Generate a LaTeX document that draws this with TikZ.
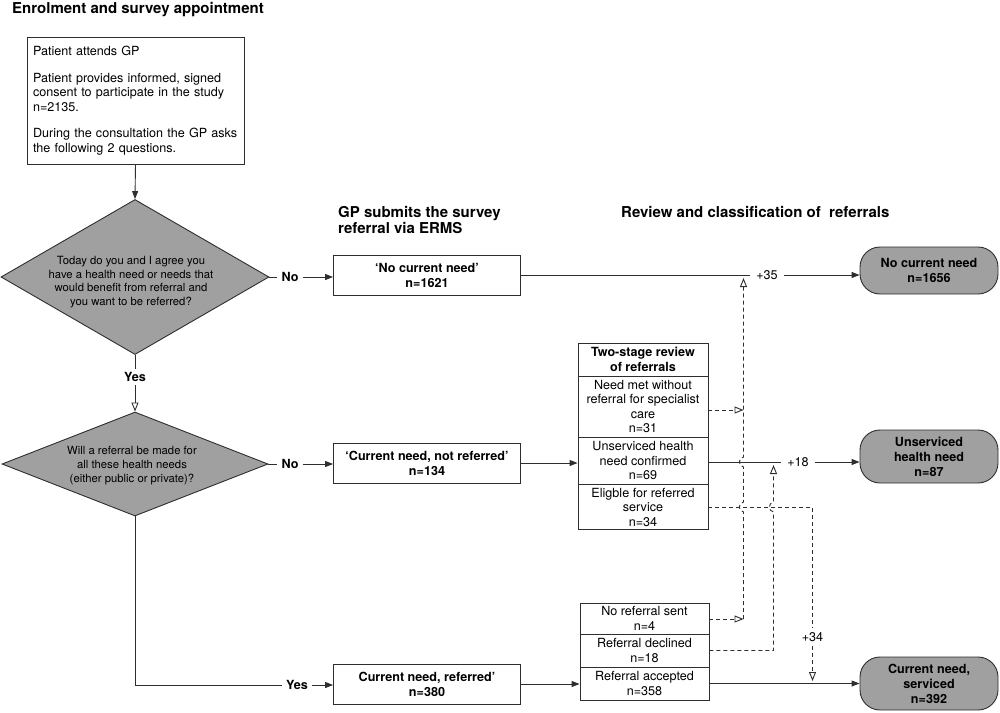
\documentclass[tikz,border=0pt]{standalone}
\usepackage{fontspec}
\setmainfont{TeX Gyre Heros}
\usetikzlibrary{arrows.meta,shapes.geometric}
\definecolor{lc}{HTML}{2E2E2E}
\definecolor{dgray}{HTML}{A0A0A0}
\newcommand\ftxt{\fontsize{12.6}{14.5}\selectfont}
\newcommand\fbold{\bfseries\fontsize{12.6}{15}\selectfont}
\newcommand\fhead{\bfseries\fontsize{15}{16}\selectfont}
\newcommand\fdia{\fontsize{11.3}{13.6}\selectfont}
\begin{document}
\begin{tikzpicture}[x=1pt,y=-1pt,
 every node/.style={inner sep=0pt, text=black},
 conn/.style={draw=lc, line width=0.9pt},
 arr/.style={conn, -{Triangle[length=8pt,width=6pt]}},
 oarr/.style={conn, -{Triangle[open,length=9pt,width=7pt,fill=white]}},
 dsh/.style={conn, dash pattern=on 4pt off 3pt},
 box/.style={draw=lc, line width=0.9pt, fill=white, align=center, minimum width=187pt, minimum height=40pt, font=\fbold},
 stk/.style={draw=lc, line width=0.9pt, fill=white, align=center, minimum width=130pt, font=\ftxt},
 dia/.style={draw=lc, line width=0.9pt, fill=dgray, shape=diamond},
 endn/.style={draw=lc, line width=0.9pt, fill=dgray, rounded corners=20pt, minimum width=138pt, align=center, font=\fbold},
 lbl/.style={font=\fbold, inner xsep=4pt, inner ysep=3pt},
 plbl/.style={font=\ftxt, inner xsep=6pt, inner ysep=3pt}]
\useasboundingbox (0,0) rectangle (1000,712);

% headers
\node[font=\fhead, anchor=base west] (title) at (12,13) {Enrolment and survey appointment};
\node[font=\fhead, align=left, anchor=west] (h2) at (338,219.5) {GP submits the survey\\referral via ERMS};
\node[font=\fhead, anchor=base west] (h3) at (621,217) {Review and classification of\ \ referrals};

% start box
\node[draw=lc, line width=0.9pt, align=left, text width=205pt, minimum width=217pt, minimum height=127pt, font=\ftxt] (start) at (135.5,100.5)
 {Patient attends GP\\[12pt]Patient provides informed, signed\\consent to participate in the study\\n=2135.\\[12pt]During the consultation the GP asks\\the following 2 questions.};

% diamonds
\node[dia, minimum width=268pt, minimum height=155pt,
 label={[font=\fdia, align=center, yshift=-5pt, xshift=-4pt]center:{Today do you and I agree you\\have a health need or needs that\\would benefit from referral and\\you want to be referred?}}] (q1) at (135,277) {};
\node[dia, minimum width=266pt, minimum height=104pt,
 label={[font=\fdia, align=center, yshift=-1.5pt, xshift=-3pt]center:{Will a referral be made for\\all these health needs\\(either public or private)?}}] (q2) at (135,464) {};

% labels
\node[lbl] (no1) at (290,277) {No};
\node[lbl] (no2) at (290,464) {No};
\node[lbl] (yes1) at (135,377) {Yes};
\node[lbl] (yes2) at (297,685) {Yes};

% GP boxes
\node[box] (b1) at (427,275) {‘No current need’\\n=1621};
\node[box] (b2) at (427,463) {‘Current need, not referred’\\n=134};
\node[box] (b3) at (427,684) {Current need, referred’\\n=380};

% review stack
\node[stk, font=\fbold, minimum height=33pt] (rv) at (643,359.5) {Two-stage review\\of referrals};
\node[stk, minimum height=61pt] (nm) at (643,406.5) {Need met without\\referral for specialist\\care\\n=31};
\node[stk, minimum height=47pt] (us) at (643,460.5) {Unserviced health\\need confirmed\\n=69};
\node[stk, minimum height=45pt] (el) at (643,507) {Eligble for referred\\service\\n=34};

\node[stk, minimum width=129pt, minimum height=31pt] (nr) at (644.5,618.5) {No referral sent\\n=4};
\node[stk, minimum width=129pt, minimum height=33pt] (rd) at (644.5,650.5) {Referral declined\\n=18};
\node[stk, minimum width=129pt, minimum height=33pt] (ra) at (644.5,683.5) {Referral accepted\\n=358};

% end nodes
\node[endn, minimum height=47pt] (e1) at (929,270.5) {No current need\\n=1656};
\node[endn, minimum height=53pt] (e2) at (929,456.5) {Unserviced\\health need\\n=87};
\node[endn, minimum height=53pt] (e3) at (929,683.5) {Current need,\\serviced\\n=392};

% plus labels
\node[plbl] (p35) at (767,275) {+35};
\node[plbl] (p18) at (798,462) {+18};
\node[plbl, inner ysep=4pt] (p34) at (812.5,637) {+34};

% solid connectors
\draw[arr] (start.south) -- (q1.north);
\draw[conn] (q1.east) -- (no1.west);
\draw[arr] (no1.east) -- (no1.east -| b1.west);
\draw[conn] (b1.east) -- (b1.east -| p35.west);
\draw[arr] (p35.east) -- (p35.east -| e1.west);

\draw[conn] (q1.south) -- (yes1.north);
\draw[oarr] (yes1.south) -- (q2.north);
\draw[conn] (q2.east) -- (no2.west);
\draw[arr] (no2.east) -- (no2.east -| b2.west);
\draw[arr] (b2.east) -- (b2.east -| us.west);
\draw[conn] (p18.west -| us.east) -- (p18.west);
\draw[arr] (p18.east) -- (p18.east -| e2.west);

\draw[conn] (q2.south) |- (yes2.west);
\draw[arr] (yes2.east) -- (yes2.east -| b3.west);
\draw[arr] (b3.east) -- (b3.east -| ra.west);
\draw[arr] (ra.east) -- (ra.east -| e3.west);

% dashed connectors
\coordinate (v1top) at (743.5,278);
\coordinate (v1bot) at (743.5,619);
\coordinate (nmj) at (743.5,410);
\coordinate (v2top) at (773.5,465);
\coordinate (v2bot) at (773.5,650.5);
\coordinate (elj) at (812.5,507);
\coordinate (v3end) at (812.5,681);

\draw[dsh, oarr] (nm.east |- nmj) -- (nmj);
\draw[dsh, oarr] (nr.east |- v1bot) -- (v1bot);
\draw[dsh, oarr] (v1bot) -- (743.5,512) .. controls (738,511) and (738,503) .. (743.5,502)
   -- (743.5,467) .. controls (738,466) and (738,458) .. (743.5,457) -- (v1top);
\draw[dsh, oarr] (rd.east) -- (v2bot) -- (773.5,512) .. controls (768,511) and (768,503) .. (773.5,502) -- (v2top);
\draw[dsh] (el.east) -- (elj) -- (p34.north);
\draw[dsh, oarr] (p34.south) -- (v3end);
\end{tikzpicture}
\end{document}
